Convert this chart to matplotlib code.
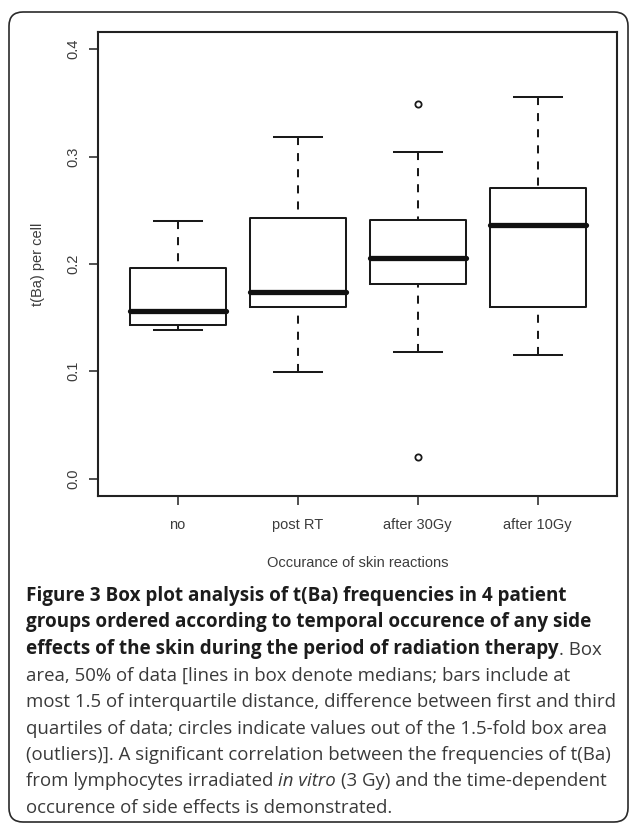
import matplotlib
matplotlib.use("Agg")
import matplotlib.pyplot as plt
from matplotlib.patches import FancyBboxPatch
from matplotlib.transforms import IdentityTransform

# box statistics
groups = ["no", "post RT", "after 30Gy", "after 10Gy"]
whislo = [0.138, 0.099, 0.118, 0.115]
q1 = [0.143, 0.160, 0.181, 0.160]
med = [0.156, 0.174, 0.205, 0.236]
q3 = [0.196, 0.243, 0.241, 0.271]
whishi = [0.240, 0.318, 0.304, 0.355]
fliers = [[], [], [0.349, 0.020], []]

yticks = [0.0, 0.1, 0.2, 0.3, 0.4]
xlabel = "Occurance of skin reactions"
ylabel = "t(Ba) per cell"

# caption lines: (text, weight, style, space before)
caption = [
    [("Figure 3 Box plot analysis of t(Ba) frequencies in 4 patient", "bold", "normal", False)],
    [("groups ordered according to temporal occurence of any side", "bold", "normal", False)],
    [("effects of the skin during the period of radiation therapy", "bold", "normal", False),
     (". Box", "normal", "normal", False)],
    [("area, 50% of data [lines in box denote medians; bars include at", "normal", "normal", False)],
    [("most 1.5 of interquartile distance, difference between first and third", "normal", "normal", False)],
    [("quartiles of data; circles indicate values out of the 1.5-fold box area", "normal", "normal", False)],
    [("(outliers)]. A significant correlation between the frequencies of t(Ba)", "normal", "normal", False)],
    [("from lymphocytes irradiated", "normal", "normal", False),
     ("in vitro", "normal", "italic", True),
     ("(3 Gy) and the time-dependent", "normal", "normal", True)],
    [("occurence of side effects is demonstrated.", "normal", "normal", False)],
]

W, H = 629, 823
fig = plt.figure(figsize=(W / 100, H / 100), dpi=100)
fig.patch.set_facecolor("white")

ax = fig.add_axes([98.3 / W, 1 - 495.7 / H, (616.7 - 98.3) / W, (495.7 - 32) / H])

stats = []
for i in range(len(groups)):
    stats.append({"label": groups[i], "whislo": whislo[i], "q1": q1[i], "med": med[i],
                  "q3": q3[i], "whishi": whishi[i], "fliers": fliers[i]})

lw = 1.45
parts = ax.bxp(stats, positions=range(1, len(groups) + 1), widths=0.8, capwidths=0.4,
               boxprops=dict(color="#1a1a1a", linewidth=lw),
               whiskerprops=dict(color="#1a1a1a", linewidth=lw, linestyle=(0, (4, 4))),
               capprops=dict(color="#1a1a1a", linewidth=lw),
               medianprops=dict(color="#111111", linewidth=3.8, solid_capstyle="round"),
               flierprops=dict(marker="o", markersize=4.5, markerfacecolor="none",
                               markeredgecolor="#1a1a1a", markeredgewidth=1.3))
# R draws whiskers from the cap towards the box, so dashes start at the cap
for w in parts["whiskers"]:
    w.set_ydata(w.get_ydata()[::-1])

ax.set_xlim(0.34, 4.66)
ax.set_ylim(-0.016, 0.416)
ax.set_yticks(yticks)
ax.set_yticklabels([f"{v:.1f}" for v in yticks], rotation=90, va="center")

tick_font = dict(family="Liberation Sans", size=10.5, color="#3c3c3c")
for lab in ax.get_xticklabels() + ax.get_yticklabels():
    lab.set_fontfamily(tick_font["family"])
    lab.set_fontsize(tick_font["size"])
    lab.set_color(tick_font["color"])

ax.tick_params(axis="both", direction="out", length=6.2, width=1.2, color="#333333")
ax.tick_params(axis="x", pad=10)
ax.tick_params(axis="y", pad=7)
for s in ax.spines.values():
    s.set_linewidth(1.5)
    s.set_color("#222222")

ax.set_xlabel(xlabel, labelpad=17, **tick_font)
ax.set_ylabel(ylabel, labelpad=15, **tick_font)

# caption, one line at a time, segments chained left to right
x0 = 26 / W
base0 = 601
step = 26.5
sizes = {"bold": 13.6, "normal": 13.4}
for k, line in enumerate(caption):
    y = 1 - (base0 + k * step) / H
    prev = None
    for text, weight, style, gap in line:
        col = "#1c1c1c" if weight == "bold" else "#3a3a3a"
        fs = sizes[weight]
        if prev is None:
            prev = fig.text(x0, y, text, fontfamily="Open Sans", fontsize=fs,
                            fontweight=weight, fontstyle=style, color=col,
                            ha="left", va="baseline")
        else:
            prev = fig.add_artist(plt.Annotation(
                text, xy=(1, 0), xycoords=prev,
                xytext=(0.26 * fs if gap else 0, 0), textcoords="offset points",
                fontfamily="Open Sans", fontsize=fs, fontweight=weight,
                fontstyle=style, color=col, ha="left", va="bottom"))

# rounded frame around chart and caption
frame = FancyBboxPatch((9, 1), 619, 810, boxstyle="round,pad=0,rounding_size=14",
                       transform=IdentityTransform(), facecolor="none",
                       edgecolor="#2a2a2a", linewidth=1.2)
fig.add_artist(frame)

fig.savefig("out.png", dpi=100)
